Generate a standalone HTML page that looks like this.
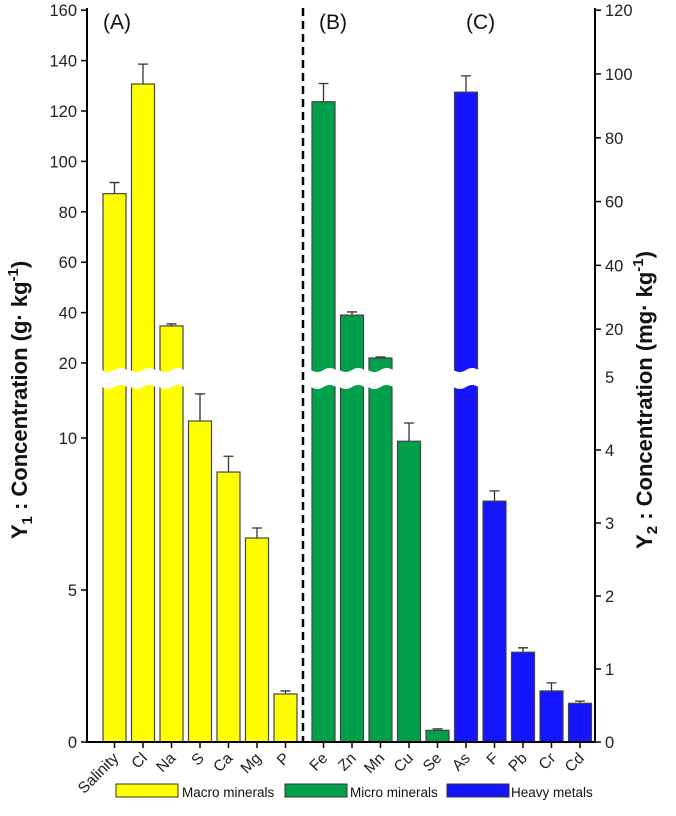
<!DOCTYPE html>
<html><head><meta charset="utf-8"><style>
body{margin:0;background:#fff;}
svg text{font-family:"Liberation Sans",Arial,sans-serif;}
</style></head><body>
<svg id="chart" width="676" height="811" viewBox="0 0 676 811" xmlns="http://www.w3.org/2000/svg">
<g id="bars"></g>
<g id="axes"></g>
</svg>
<script>
const categories = ["Salinity","Cl","Na","S","Ca","Mg","P","Fe","Zn","Mn","Cu","Se","As","F","Pb","Cr","Cd"];
const groups = ["macro","macro","macro","macro","macro","macro","macro","micro","micro","micro","micro","micro","heavy","heavy","heavy","heavy","heavy"];
const values = [87.2,130.7,34.7,10.56,8.88,6.71,1.58,91.3,24.4,10.96,4.12,0.16,94.3,3.30,1.23,0.70,0.53];
const errors = [4.4,7.9,0.8,0.89,0.52,0.33,0.10,5.7,1.0,0.3,0.25,0.02,5.1,0.14,0.06,0.11,0.03];
const leftLowTicks = [0,5,10];
const leftHighTicks = [20,40,60,80,100,120,140,160];
const rightLowTicks = [0,1,2,3,4,5];
const rightHighTicks = [20,40,60,80,100,120];
const legendLabels = ["Macro minerals","Micro minerals","Heavy metals"];

const NS="http://www.w3.org/2000/svg";
const colors={macro:"#ffff00",micro:"#00a04b",heavy:"#1414ff"};
const X0=87, X1=595, Y0=742, BREAK_TOP=370, BREAK_BOT=387;
function yLeft(v){ return v<=15 ? Y0 - v*30.4 : 363-(v-20)*2.52; }
function yRight(v){ return v<=5 ? Y0 - v*73 : 377-(v-5)*3.19; }
function yFor(i,v){ return groups[i]==="macro" ? yLeft(v) : yRight(v); }
function xFor(i){ return i<7 ? 103+i*28.5 : 312+(i-7)*28.5; }
const BW=23;
function mk(tag,attrs,parent,text){const e=document.createElementNS(NS,tag);for(const k in attrs)e.setAttribute(k,attrs[k]);if(text!==undefined)e.textContent=text;parent.appendChild(e);return e;}
const svg=document.getElementById('chart');
const gb=document.getElementById('bars');
const ga=document.getElementById('axes');

categories.forEach((c,i)=>{
  const x=xFor(i), yt=yFor(i,values[i]), ye=yFor(i,values[i]+errors[i]);
  const cx=x+BW/2;
  const eb=mk('path',{d:`M${cx},${yt}V${ye}M${cx-5},${ye}H${cx+5}`,stroke:"#333","stroke-width":1.3,fill:"none"},gb);
  
  
  const r=mk('rect',{x:x,y:yt,width:BW,height:Y0-yt,fill:colors[groups[i]],stroke:"#444","stroke-width":1.2},gb);
  
  
  if(yt<BREAK_TOP){
    const w=mk('path',{d:`M${x-1},${BREAK_TOP} q${(BW+2)/4},4 ${(BW+2)/2},0 t${(BW+2)/2},0 V${BREAK_BOT} q${-(BW+2)/4},-4 ${-(BW+2)/2},0 t${-(BW+2)/2},0 Z`,fill:"#fff",stroke:"none"},gb);
    
    
  }
  const tx=cx;
  mk('line',{x1:tx,y1:Y0,x2:tx,y2:Y0+6,stroke:"#000","stroke-width":1.5},ga);
  const t=mk('text',{x:tx+5,y:Y0+17,"font-size":15.5,fill:"#222","text-anchor":"end",transform:`rotate(-45 ${tx+5} ${Y0+17})`},ga,c);
  
  
});
mk('line',{x1:X0,y1:8,x2:X0,y2:Y0+1,stroke:"#000","stroke-width":2},ga);
mk('line',{x1:X1,y1:8,x2:X1,y2:Y0+1,stroke:"#000","stroke-width":2},ga);
mk('line',{x1:X0,y1:Y0,x2:X1,y2:Y0,stroke:"#000","stroke-width":2},ga);
mk('line',{x1:303,y1:8,x2:303,y2:Y0,stroke:"#000","stroke-width":2.5,"stroke-dasharray":"8,5"},ga);
leftLowTicks.concat(leftHighTicks).forEach(v=>{
  const y=yLeft(v);
  mk('line',{x1:X0-6,y1:y,x2:X0,y2:y,stroke:"#000","stroke-width":1.5},ga);
  const t=mk('text',{x:X0-10,y:y+6,"font-size":16.5,fill:"#222","text-anchor":"end"},ga,v);
  
  
});
rightLowTicks.concat(rightHighTicks).forEach(v=>{
  const y=yRight(v);
  if(v!==5) mk('line',{x1:X1,y1:y,x2:X1+6,y2:y,stroke:"#000","stroke-width":1.5},ga);
  const t=mk('text',{x:X1+10,y:y+6,"font-size":16.5,fill:"#222"},ga,v);
  
  
});
[["(A)",103],["(B)",319],["(C)",466]].forEach(([s,x])=>{
  const t=mk('text',{x:x,y:29,"font-size":21,fill:"#111"},ga,s);
  
  
});
const lx=[[116,182],[285,350],[447,511]];
["macro","micro","heavy"].forEach((g,i)=>{
  const r=mk('rect',{x:lx[i][0],y:784,width:62,height:13,fill:colors[g],stroke:"#333","stroke-width":1},ga);
  
  
  const t=mk('text',{x:lx[i][1],y:797,"font-size":13.5,fill:"#111"},ga,legendLabels[i]);
  
  
});
</script>
<svg style="position:absolute;left:0;top:0" width="676" height="811">
<text transform="translate(27 400) rotate(-90)" text-anchor="middle" font-size="22" font-weight="bold" font-family="Liberation Sans, sans-serif" fill="#111">Y<tspan font-size="15" dy="5">1</tspan><tspan dy="-5"> : Concentration (g· kg</tspan><tspan font-size="15" dy="-9">-1</tspan><tspan dy="9">)</tspan></text>
<text transform="translate(652 400) rotate(-90)" text-anchor="middle" font-size="22" font-weight="bold" font-family="Liberation Sans, sans-serif" fill="#111">Y<tspan font-size="15" dy="5">2</tspan><tspan dy="-5"> : Concentration (mg· kg</tspan><tspan font-size="15" dy="-9">-1</tspan><tspan dy="9">)</tspan></text>
</svg>
</body></html>
